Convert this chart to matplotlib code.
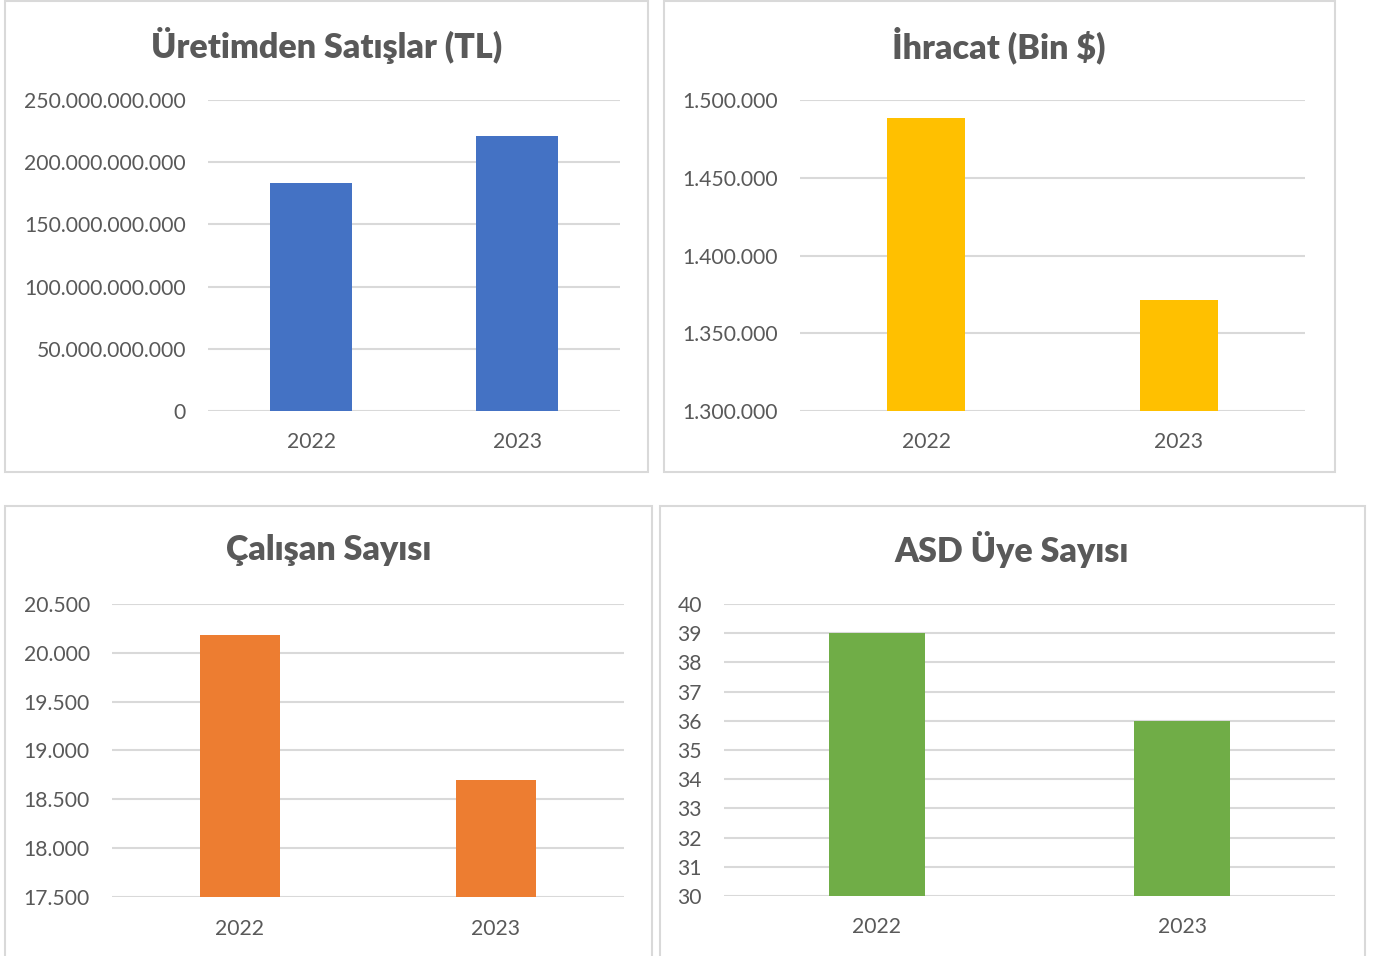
import matplotlib
matplotlib.use("Agg")
import matplotlib.pyplot as plt
from matplotlib.patches import Rectangle
from matplotlib.ticker import FuncFormatter, MultipleLocator

years = ["2022", "2023"]
sales_tl = [183_200_000_000, 221_300_000_000]
export_kusd = [1_488_300, 1_371_600]
employees = [20_186, 18_700]
members = [39, 36]

titles = ["Üretimden Satışlar (TL)", "İhracat (Bin $)", "Çalışan Sayısı", "ASD Üye Sayısı"]
colors = ["#4472C4", "#FFC000", "#ED7D31", "#70AD47"]

W, H = 1379, 956
fig = plt.figure(figsize=(W / 100, H / 100), dpi=100)
plt.rcParams['font.family'] = ['Lato', 'DejaVu Sans']
TXT = "#595959"
GRID = "#D9D9D9"

def fmt(v, pos=None):
    return f"{int(round(v)):,}".replace(",", ".")

def px_rect(x0, y0, x1, y1):
    return [x0 / W, 1 - y1 / H, (x1 - x0) / W, (y1 - y0) / H]

# panel borders (x0, y0, x1, y1) in pixels
panels = [(5, 1, 648, 472), (664, 1, 1335, 472), (5, 506, 652, 962), (660, 506, 1365, 962)]
for (x0, y0, x1, y1) in panels:
    fig.patches.append(Rectangle((x0 / W, 1 - y1 / H), (x1 - x0) / W, (y1 - y0) / H,
                                 transform=fig.transFigure, fill=False,
                                 edgecolor=GRID, linewidth=1.5, zorder=0))

specs = [
    dict(data=sales_tl, rect=(208, 100, 620, 411), ylim=(0, 250e9), step=50e9, width=0.40,
         title_xy=(327, 45), xlab_pad=15),
    dict(data=export_kusd, rect=(800, 100, 1305, 411), ylim=(1_300_000, 1_500_000), step=50_000, width=0.31,
         title_xy=(999, 45), xlab_pad=15),
    dict(data=employees, rect=(112, 604, 624, 897), ylim=(17_500, 20_500), step=500, width=0.316,
         title_xy=(329, 550), xlab_pad=16),
    dict(data=members, rect=(724, 604, 1335, 896), ylim=(30, 40), step=1, width=0.314,
         title_xy=(1012, 550), xlab_pad=15),
]

for i, s in enumerate(specs):
    ax = fig.add_axes(px_rect(*s["rect"]))
    ax.bar(years, s["data"], width=s["width"], color=colors[i], zorder=3)
    ax.set_ylim(*s["ylim"])
    ax.set_xlim(-0.5, 1.5)
    ax.yaxis.set_major_locator(MultipleLocator(s["step"]))
    ax.yaxis.set_major_formatter(FuncFormatter(fmt))
    ax.grid(axis="y", color=GRID, linewidth=1.5, zorder=0)
    for sp in ax.spines.values():
        sp.set_visible(False)
    ax.tick_params(axis="both", length=0, labelsize=15.2, colors=TXT)
    ax.tick_params(axis="y", pad=16)
    ax.tick_params(axis="x", pad=s["xlab_pad"])
    ax.set_facecolor("none")
    fig.text(s["title_xy"][0] / W, 1 - s["title_xy"][1] / H, titles[i],
             ha="center", va="center", fontsize=24.5, fontweight="heavy", color=TXT)

fig.savefig("out.png", dpi=100, facecolor="white")
